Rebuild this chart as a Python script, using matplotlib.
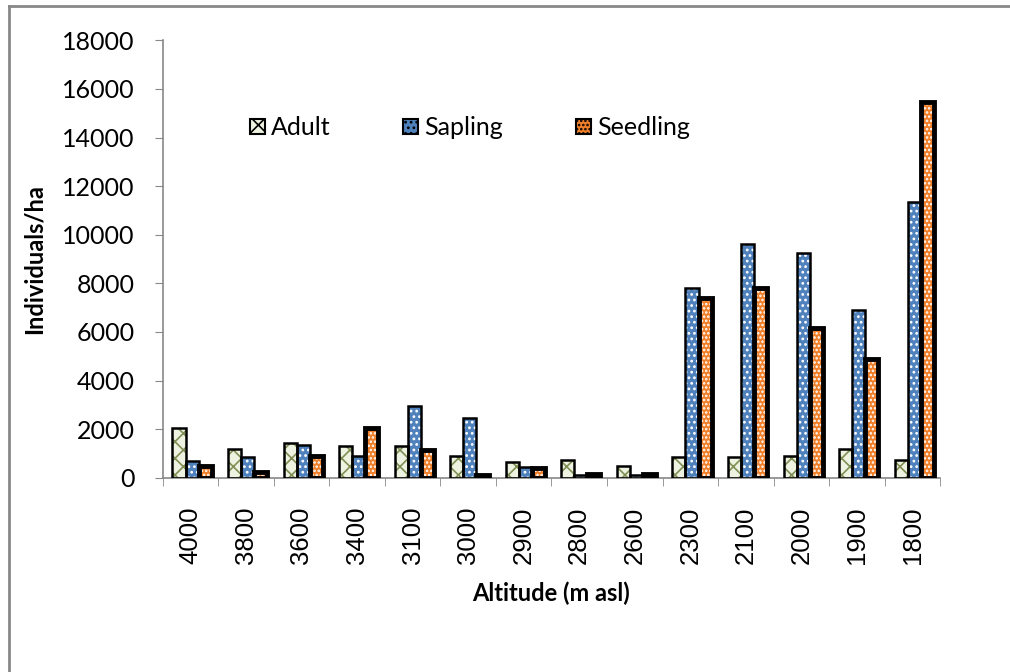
import numpy as np
import matplotlib
matplotlib.use('Agg')
import matplotlib.pyplot as plt
from matplotlib.lines import Line2D

plt.rcParams['font.family'] = ['Lato', 'DejaVu Sans']
plt.rcParams['hatch.linewidth'] = 1.2

altitudes = ['4000', '3800', '3600', '3400', '3100', '3000', '2900',
             '2800', '2600', '2300', '2100', '2000', '1900', '1800']
adult = [2050, 1200, 1450, 1300, 1300, 900, 650, 750, 500, 850, 850, 900, 1200, 750]
sapling = [700, 850, 1350, 900, 2950, 2450, 450, 100, 100, 7800, 9600, 9250, 6900, 11350]
seedling = [500, 250, 900, 2050, 1150, 100, 400, 150, 150, 7400, 7800, 6150, 4900, 15450]

series = [
    ('Adult', adult, '#EEF2E0', '#7F8F55', 'xx', 1.8),
    ('Sapling', sapling, '#4F81BD', 'white', '...', 1.8),
    ('Seedling', seedling, '#F07F2A', 'white', '....', 3.5),
]

fig = plt.figure(figsize=(10.10, 6.72), dpi=100)
ax = fig.add_axes([0.161, 0.289, 0.770, 0.651])

x = np.arange(len(altitudes))
w = 0.235
for k, (name, vals, fc, hc, hatch, lw) in enumerate(series):
    pos = x + (k - 1) * w + 0.03
    # fill + hatch pattern
    ax.bar(pos, vals, w, color=fc, edgecolor=hc, hatch=hatch, linewidth=0, zorder=2)
    # black outline
    ax.bar(pos, vals, w, fill=False, edgecolor='black', linewidth=lw, zorder=3)

# legend proxies
handles = []
for name, vals, fc, hc, hatch, lw in series:
    h = plt.Rectangle((0, 0), 1, 1, facecolor=fc, edgecolor='black', hatch=hatch, linewidth=1.5)
    handles.append(h)
leg = ax.legend(handles, [s[0] for s in series], ncol=3, loc='center',
                bbox_to_anchor=(0.395, 0.80), frameon=False, fontsize=18,
                handlelength=0.6, handleheight=0.6, handletextpad=0.25, columnspacing=2.9)

ax.set_xlim(-0.5, len(altitudes) - 0.5)
ax.set_ylim(0, 18000)
ax.set_yticks(np.arange(0, 18001, 2000))
ax.set_xticks(x)
ax.set_xticklabels(altitudes, rotation=90, fontsize=18.5, fontfamily='Liberation Sans')
ax.set_xticks(np.arange(-0.5, len(altitudes), 1), minor=True)
ax.tick_params(axis='x', which='major', length=0, pad=21)
ax.tick_params(axis='x', which='minor', length=6, color='#888888', direction='out')
ax.tick_params(axis='y', length=6, color='#888888', labelsize=18, pad=14)

for s in ['top', 'right']:
    ax.spines[s].set_visible(False)
for s in ['left', 'bottom']:
    ax.spines[s].set_color('#888888')
    ax.spines[s].set_linewidth(1.2)

ax.set_ylabel('Individuals/ha', fontsize=17, fontweight='bold', labelpad=12)
ax.set_xlabel('Altitude (m asl)', fontsize=17, fontweight='bold', labelpad=12)

# outer chart frame (left and top visible)
fig.add_artist(Line2D([0.0085, 0.0085], [0, 0.991], color='#888888', linewidth=2, transform=fig.transFigure))
fig.add_artist(Line2D([0.0085, 1.0], [0.991, 0.991], color='#888888', linewidth=2, transform=fig.transFigure))

fig.savefig('out.png', dpi=100)
